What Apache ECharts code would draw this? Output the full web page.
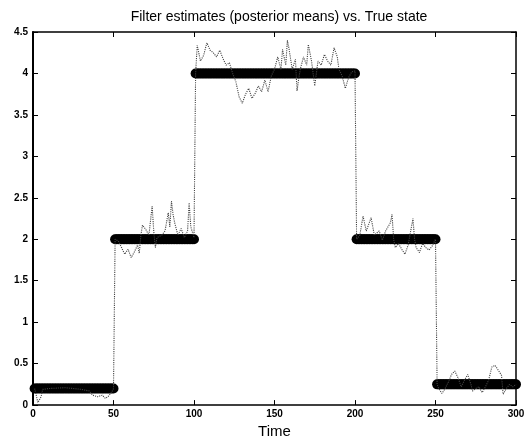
<!DOCTYPE html>
<html>
<head>
<meta charset="utf-8">
<script src="https://cdn.jsdelivr.net/npm/echarts@6/dist/echarts.min.js"></script>
<style>
  html, body { margin: 0; padding: 0; background: #fff; }
  #chart { width: 530px; height: 444px; }
</style>
</head>
<body>
<div id="chart"></div>
<script>
// true state: one level per segment, segment ends in time steps
const stateLevels = [0.2, 2, 4, 2, 0.25];
const stateEnds = [50, 100, 200, 250, 300];

// filter estimate (posterior mean)
const estTime = [
  1, 2, 3, 4, 5, 6, 10, 20, 30, 35, 37, 40, 43, 45, 47, 49, 50,
  51, 53, 55, 57, 59, 61, 63, 65, 66, 67, 68, 70, 72, 74, 75, 76, 77, 80, 82, 84, 85, 86, 87, 88, 90, 92, 94, 96, 97, 98, 100,
  101, 102, 104, 106, 108, 110, 112, 114, 116, 118, 120, 122, 124, 126, 128, 130, 132, 134, 136, 138, 140, 142, 144, 146, 148,
  150, 152, 154, 155, 157, 158, 159, 161, 163, 164, 165, 166, 168, 170, 171, 173, 175, 177, 179, 181, 183, 185, 187, 189, 190,
  192, 194, 196, 198, 200,
  201, 203, 205, 207, 210, 212, 215, 217, 219, 222, 223, 224, 225, 227, 229, 231, 233, 234, 236, 237, 238, 240, 242, 244, 246, 248, 250,
  251, 252, 254, 256, 258, 260, 262, 264, 266, 268, 270, 272, 273, 275, 277, 279, 281, 283, 285, 287, 289, 291, 292, 294, 296, 298, 300
];
const estValue = [
  0.2, 0.12, 0.03, 0.02, 0.1, 0.19, 0.2, 0.21, 0.19, 0.17, 0.12, 0.1, 0.12, 0.08, 0.11, 0.16, 0.2,
  2.0, 1.98, 1.9, 1.82, 1.88, 1.78, 1.85, 1.93, 1.83, 2.05, 2.17, 2.12, 2.05, 2.4, 2.1, 1.9, 2.02, 2.05, 2.1, 2.32, 2.15, 2.46, 2.3, 2.2, 2.05, 2.13, 2.02, 2.1, 2.44, 2.15, 2.02,
  4.0, 4.34, 4.15, 4.22, 4.37, 4.28, 4.25, 4.2, 4.28, 4.18, 4.1, 4.13, 4.0, 3.9, 3.72, 3.64, 3.75, 3.82, 3.7, 3.76, 3.85, 3.78, 3.92, 3.78, 3.97,
  4.05, 4.2, 4.05, 4.29, 4.1, 4.4, 4.3, 4.05, 4.17, 3.79, 3.93, 4.05, 4.2, 4.1, 4.35, 4.15, 3.85, 4.15, 4.1, 4.23, 4.15, 4.1, 4.31, 4.2, 4.05,
  3.97, 3.82, 3.95, 4.02, 4.03,
  2.0, 2.05, 2.28, 2.1, 2.26, 2.05, 2.1, 1.99, 2.1, 2.2, 2.3, 2.0, 1.9, 1.95, 1.88, 1.82, 1.93, 1.95, 2.25, 2.0, 1.9, 1.84, 1.95, 1.9, 1.87, 1.92, 2.0,
  0.25, 0.2, 0.14, 0.2, 0.28, 0.37, 0.41, 0.33, 0.22, 0.3, 0.37, 0.25, 0.17, 0.2, 0.22, 0.15, 0.22, 0.3, 0.46, 0.48, 0.42, 0.36, 0.13, 0.2, 0.25, 0.22, 0.25
];

const xTicks = [0, 50, 100, 150, 200, 250, 300];
const yTicks = [0, 0.5, 1, 1.5, 2, 2.5, 3, 3.5, 4, 4.5];

// one marker per time step for the true state
const stateData = [];
let t = 1;
stateEnds.forEach((end, i) => {
  for (; t <= end; t++) stateData.push([t, stateLevels[i]]);
});
const estData = estTime.map((tt, i) => [tt, estValue[i]]);

const font = "'Liberation Sans', Arial, sans-serif";
const line = { show: true, onZero: false, lineStyle: { color: "#000", width: 1.5 } };
const tick = { show: true, inside: true, length: 5, lineStyle: { color: "#000", width: 1 } };

const chart = echarts.init(document.getElementById("chart"));
chart.setOption({
  animation: false,
  backgroundColor: "#fff",
  title: {
    text: "Filter estimates (posterior means) vs. True state",
    left: 274,
    textAlign: "center",
    top: 5,
    textStyle: { fontFamily: font, fontSize: 14, fontWeight: "normal", color: "#000" }
  },
  grid: { left: 33, right: 14, top: 32, bottom: 30 },
  xAxis: [
    {
      type: "value", min: xTicks[0], max: xTicks[xTicks.length - 1], interval: 50,
      axisLine: line, axisTick: tick, splitLine: { show: false },
      axisLabel: { fontFamily: font, fontSize: 10, fontWeight: "bold", color: "#000", margin: 4 },
      name: "Time", nameLocation: "middle", nameGap: 17,
      nameTextStyle: { fontFamily: font, fontSize: 15, color: "#000" }
    },
    {
      type: "value", position: "top", min: xTicks[0], max: xTicks[xTicks.length - 1], interval: 50,
      axisLine: line, axisTick: tick, axisLabel: { show: false }, splitLine: { show: false }
    }
  ],
  yAxis: [
    {
      type: "value", min: yTicks[0], max: yTicks[yTicks.length - 1], interval: 0.5,
      axisLine: { show: true, onZero: false, lineStyle: { color: "#000", width: 2 } }, axisTick: tick, splitLine: { show: false },
      axisLabel: { fontFamily: font, fontSize: 10, fontWeight: "bold", color: "#000", margin: 5 }
    },
    {
      type: "value", position: "right", min: yTicks[0], max: yTicks[yTicks.length - 1], interval: 0.5,
      axisLine: line, axisTick: tick, axisLabel: { show: false }, splitLine: { show: false }
    }
  ],
  series: [
    {
      name: "True state",
      type: "scatter",
      data: stateData,
      symbol: "circle",
      symbolSize: 10,
      itemStyle: { color: "#000", opacity: 1 },
      z: 2
    },
    {
      name: "Filter estimate",
      type: "line",
      data: estData,
      showSymbol: false,
      lineStyle: { color: "#444", width: 1.1, type: "dotted" },
      z: 3
    }
  ]
});
</script>
</body>
</html>
